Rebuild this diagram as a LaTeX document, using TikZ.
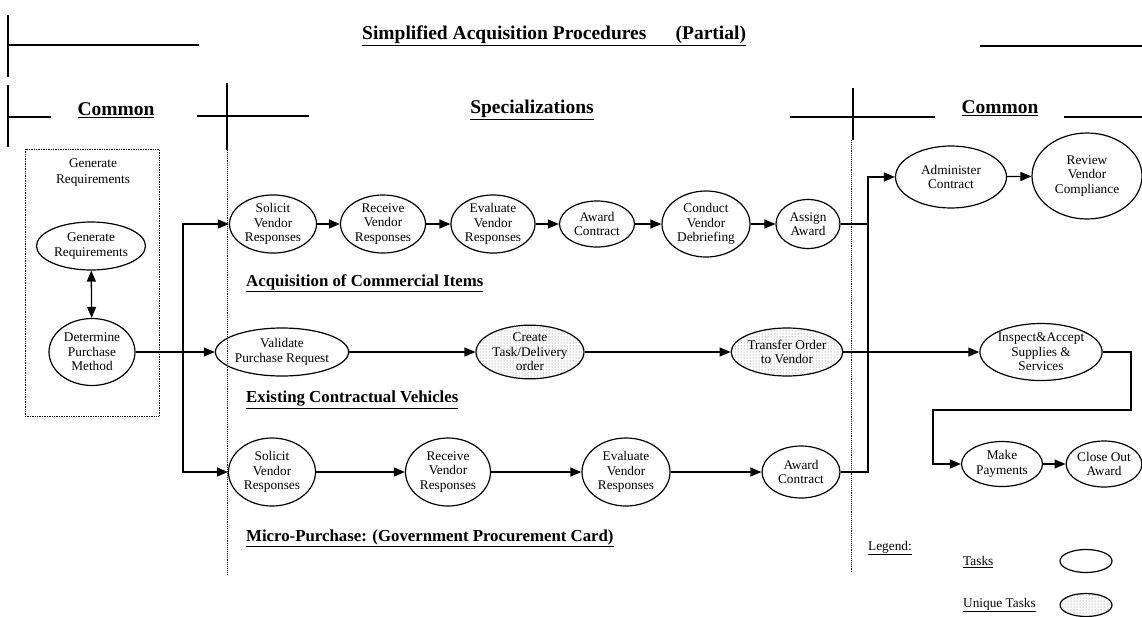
\documentclass[tikz,border=0pt]{standalone}
\usepackage{fontspec}
\setmainfont{Liberation Serif}
\usetikzlibrary{arrows.meta,shapes.geometric,patterns,calc}

\begin{document}
\begin{tikzpicture}
[x=1pt,y=-1pt,inner sep=0pt,
task/.style={ellipse,draw,line width=1.2pt,align=center,font=\fontsize{13.3}{14.5}\selectfont},
unique/.style={task,pattern=dots,pattern color=black!60},
dims/.style 2 args={minimum width=#1,minimum height=#2},
flow/.style={line width=1.3pt,-{Triangle[length=11pt,width=9pt]}},
rule/.style={line width=1.3pt},
sep/.style={densely dotted,line width=0.9pt},
head/.style={font=\fontsize{19.5}{22}\selectfont\bfseries},
lane/.style={anchor=west,font=\fontsize{16.8}{19}\selectfont\bfseries},
key/.style={anchor=west,font=\fontsize{13.3}{15}\selectfont}]
\useasboundingbox (0,0) rectangle (1142,616);

% frame and headings
\draw[rule] (8,15) -- (8,77);
\draw[rule] (8,45) -- (199,45);
\draw[rule] (980,46) -- (1142,46);
\draw[rule] (8,85) -- (8,147);
\draw[rule] (8,117) -- (51,117);
\draw[rule] (227,83) -- (227,150);
\draw[rule] (197,116) -- (309,116);
\draw[rule] (853,88) -- (853,140);
\draw[rule] (790,117) -- (935,117);
\draw[rule] (1064,117) -- (1142,117);
\draw[sep] (227,150) -- (227,575);
\draw[sep] (851,140) -- (851,572);
\node[head,anchor=west] (title) at (362,36) {\underline{Simplified Acquisition Procedures\hspace{1.5em}(Partial)}};
\node[head] (common left) at (116,110) {\underline{Common}};
\node[head] (special) at (532,110) {\underline{Specializations}};
\node[head] (common right) at (1000,108) {\underline{Common}};

% generate requirements box
\draw[sep,line width=0.7pt] (25,149) rectangle (159,416);
\node[align=center,font=\fontsize{13.3}{16}\selectfont] (box label) at (93,173) {Generate\\Requirements};
\node[task,dims={109}{48}] (gen req) at (91,246) {Generate\\Requirements};
\node[task,dims={86}{67}] (det method) at (92,352) {Determine\\Purchase\\Method};
\draw[line width=1.3pt,{Triangle[length=11pt,width=9pt]}-{Triangle[length=11pt,width=9pt]}] (gen req) -- (det method);

% acquisition of commercial items
\node[task,dims={87}{54}] (solicit ci) at (273,224) {Solicit\\Vendor\\Responses};
\node[task,dims={85}{58}] (receive ci) at (383,224) {Receive\\Vendor\\Responses};
\node[task,dims={84}{56}] (evaluate ci) at (493,224) {Evaluate\\Vendor\\Responses};
\node[task,dims={75}{46}] (award ci) at (597,224) {Award\\Contract};
\node[task,dims={88}{66}] (debrief ci) at (706,224) {Conduct\\Vendor\\Debriefing};
\node[task,dims={64}{49}] (assign ci) at (808,224) {Assign\\Award};
\node[lane] (lane ci) at (246,283) {\underline{Acquisition of Commercial Items}};

% existing contractual vehicles
\node[task,dims={106}{48}] (validate ecv) at (282,352) {Validate\\Purchase Request};
\node[unique,dims={108}{52}] (create ecv) at (530,352) {Create\\Task/Delivery\\order};
\node[unique,dims={110}{48}] (transfer ecv) at (787,352) {Transfer Order\\to Vendor};
\node[lane] (lane ecv) at (246,400) {\underline{Existing Contractual Vehicles}};

% micro-purchase
\node[task,dims={87}{68}] (solicit mp) at (272,472) {Solicit\\Vendor\\Responses};
\node[task,dims={85}{68}] (receive mp) at (448,472) {Receive\\Vendor\\Responses};
\node[task,dims={88}{68}] (evaluate mp) at (626,472) {Evaluate\\Vendor\\Responses};
\node[task,dims={78}{52}] (award mp) at (801,472) {Award\\Contract};
\node[lane] (lane mp) at (246,538) {\underline{Micro-Purchase: (Government Procurement Card)}};

% common tasks
\node[task,dims={111}{62}] (administer) at (951,177) {Administer\\Contract};
\node[task,dims={110}{86}] (review) at (1087,176) {Review\\Vendor\\Compliance};
\node[task,dims={118}{57}] (inspect) at (1041,352) {Inspect\&Accept\\Supplies \&\\Services};
\node[task,dims={81}{45}] (payments) at (1002,464) {Make\\Payments};
\node[task,dims={75}{46}] (close out) at (1104,464) {Close Out\\Award};

% legend
\node[key] (legend) at (868,548) {\underline{Legend:}};
\node[key] (key tasks) at (963,562) {\underline{Tasks}};
\node[key] (key unique) at (963,605) {\underline{Unique Tasks}};
\node[task,dims={52}{23}] (tasks shape) at (1086,561) {};
\node[unique,dims={52}{23}] (unique shape) at (1086,605) {};

% connectors
\coordinate (split) at (183,352);
\coordinate (bus) at (868,352);
\coordinate (loop right) at (1131,410);
\coordinate (loop left) at (933,410);
\draw[flow] (det method) -- (validate ecv);
\draw[flow] (split) |- (solicit ci.west);
\draw[flow] (split) |- (solicit mp.west);
\foreach \a/\b in {solicit ci/receive ci,receive ci/evaluate ci,evaluate ci/award ci,award ci/debrief ci,debrief ci/assign ci,validate ecv/create ecv,create ecv/transfer ecv,solicit mp/receive mp,receive mp/evaluate mp,evaluate mp/award mp,administer/review,payments/close out}
  \draw[flow] (\a) -- (\b);
\draw[flow] (transfer ecv) -- (inspect);
\draw[rule] (assign ci.east) -- (assign ci.east -| bus);
\draw[flow] (award mp.east) -| (bus) |- (administer.west);
\draw[flow] (inspect.east) -| (loop right) -- (loop left) |- (payments.west);
\end{tikzpicture}
\end{document}
